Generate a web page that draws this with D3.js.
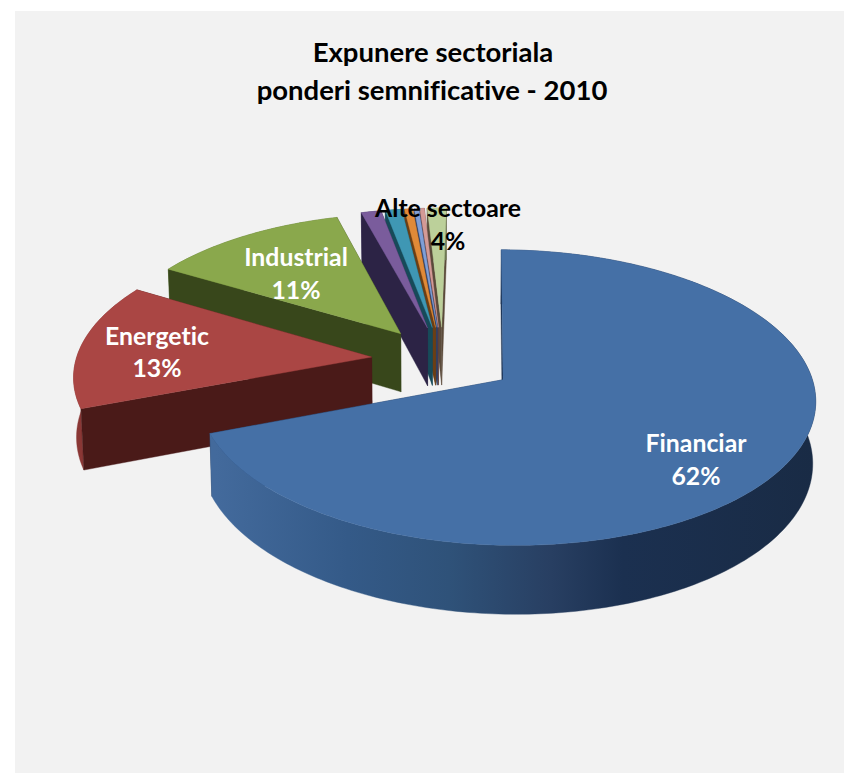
<!DOCTYPE html>
<html>
<head>
<meta charset="utf-8">
<script src="https://cdn.jsdelivr.net/npm/d3@7/dist/d3.min.js"></script>
<style>
html,body{margin:0;padding:0;background:#fff}
svg{display:block}
text{font-family:Lato,"Open Sans",sans-serif;font-weight:700;font-variant-ligatures:none}
</style>
</head>
<body>
<div id="chart"></div>
<script>
// Sector exposure, in percent of the portfolio
const sectors = ["Financiar","Energetic","Industrial","Media","Sanatate","Utilitati","IT","Consum","Alte"];
const weights = [62,13,11,1.1,0.9,0.45,0.25,0.25,1.05];
const topColors  = ["#4570a6","#aa4644","#8aa84c","#7a5c9c","#3f97b4","#e08a38","#7f9fd6","#d39a96","#bcd09a"];
const wallColors = ["#1a3050","#4a1a18","#38471b","#2c2345","#174a59","#6b3e14","#2f3f66","#5e3f3d","#5a4a3a"];
const rimColors  = ["url(#finRim)","#8a3735","#56702c","#3c2f5e","#1d5f73","#8a5018","#3f5280","#7a5250","#6d7a52"];
const labelRows = [
  {name:"Financiar", pct:"62%", color:"#fff", x:696, y:[452,485]},
  {name:"Energetic", pct:"13%", color:"#fff", x:157, y:[345,377]},
  {name:"Industrial",pct:"11%", color:"#fff", x:296, y:[266,299]},
  {name:"Alte sectoare",pct:"4%", color:"#000", x:448, y:[217,250]}
];

const W = 859, H = 775;
const view = {ox:443, oy:360, rx:300, ry:140.6, perspV:0.1186, perspU:0.01, depth:59.5, taper:0.992, explode:0.24};
const deg = Math.PI/180;

const svg = d3.select("#chart").append("svg").attr("width",W).attr("height",H);
svg.append("rect").attr("x",15).attr("y",11).attr("width",829).attr("height",762).attr("fill","#f2f2f2");

const grad = svg.append("defs").append("linearGradient").attr("id","finRim")
  .attr("gradientUnits","userSpaceOnUse").attr("x1",216).attr("x2",814).attr("y1",0).attr("y2",0);
[[0,"#436a9c"],[.22,"#345a88"],[.39,"#2f5279"],[.56,"#283f62"],[.68,"#1b3050"],[1,"#192b45"]]
  .forEach(([o,c])=>grad.append("stop").attr("offset",o).attr("stop-color",c));

// Perspective projection of a point on the pie plane; z = 1 is the underside
function project(u,v,z){
  const w = 1/(1-view.perspV*v-view.perspU*u);
  const s = z ? view.taper : 1;
  return [view.ox + view.rx*u*w*s, view.oy + view.ry*v*w + z*view.depth*w];
}

const pie = d3.pie().sort(null).startAngle(1*deg).endAngle(361*deg);
const arcs = pie(weights);
const line = d3.line().curve(d3.curveLinear);

const g = svg.append("g");
// Painter's order: rear small slices first, the front slice last
const order = [8,7,6,5,4,3,2,1,0];
order.forEach(i=>{
  const a = arcs[i], mid = (a.startAngle+a.endAngle)/2;
  const cu = view.explode*Math.sin(mid), cv = -view.explode*Math.cos(mid);
  const rimAt = t=>[cu+Math.sin(t), cv-Math.cos(t)];
  const n = Math.max(4,Math.ceil((a.endAngle-a.startAngle)/deg));
  const ts = d3.range(n+1).map(k=>a.startAngle+(a.endAngle-a.startAngle)*k/n);
  const rim = ts.map(rimAt);
  const top = rim.map(p=>project(p[0],p[1],0));
  const bot = rim.map(p=>project(p[0],p[1],1));
  const apexT = project(cu,cv,0), apexB = project(cu,cv,1);
  const draw = (pts,fill)=>g.append("path").attr("d",line(pts)+"Z").attr("fill",fill).attr("stroke",fill).attr("stroke-width",0.4);
  draw([apexT,top[n],bot[n],apexB],wallColors[i]);
  draw(top.concat(bot.slice().reverse()),rimColors[i]);
  draw([apexT,top[0],bot[0],apexB],wallColors[i]);
  draw([apexT].concat(top),topColors[i]);
});

// Title
const title = svg.append("text").attr("text-anchor","middle").attr("font-size",27.5).attr("fill","#000");
title.append("tspan").attr("x",433).attr("y",62).text("Expunere sectoriala");
title.append("tspan").attr("x",432).attr("y",100).text("ponderi semnificative - 2010");

// Data labels
labelRows.forEach(l=>{
  [l.name,l.pct].forEach((s,k)=>{
    svg.append("text").attr("x",l.x).attr("y",l.y[k]).attr("text-anchor","middle")
      .attr("font-size",24.8).attr("fill",l.color).text(s);
  });
});
</script>
</body>
</html>
